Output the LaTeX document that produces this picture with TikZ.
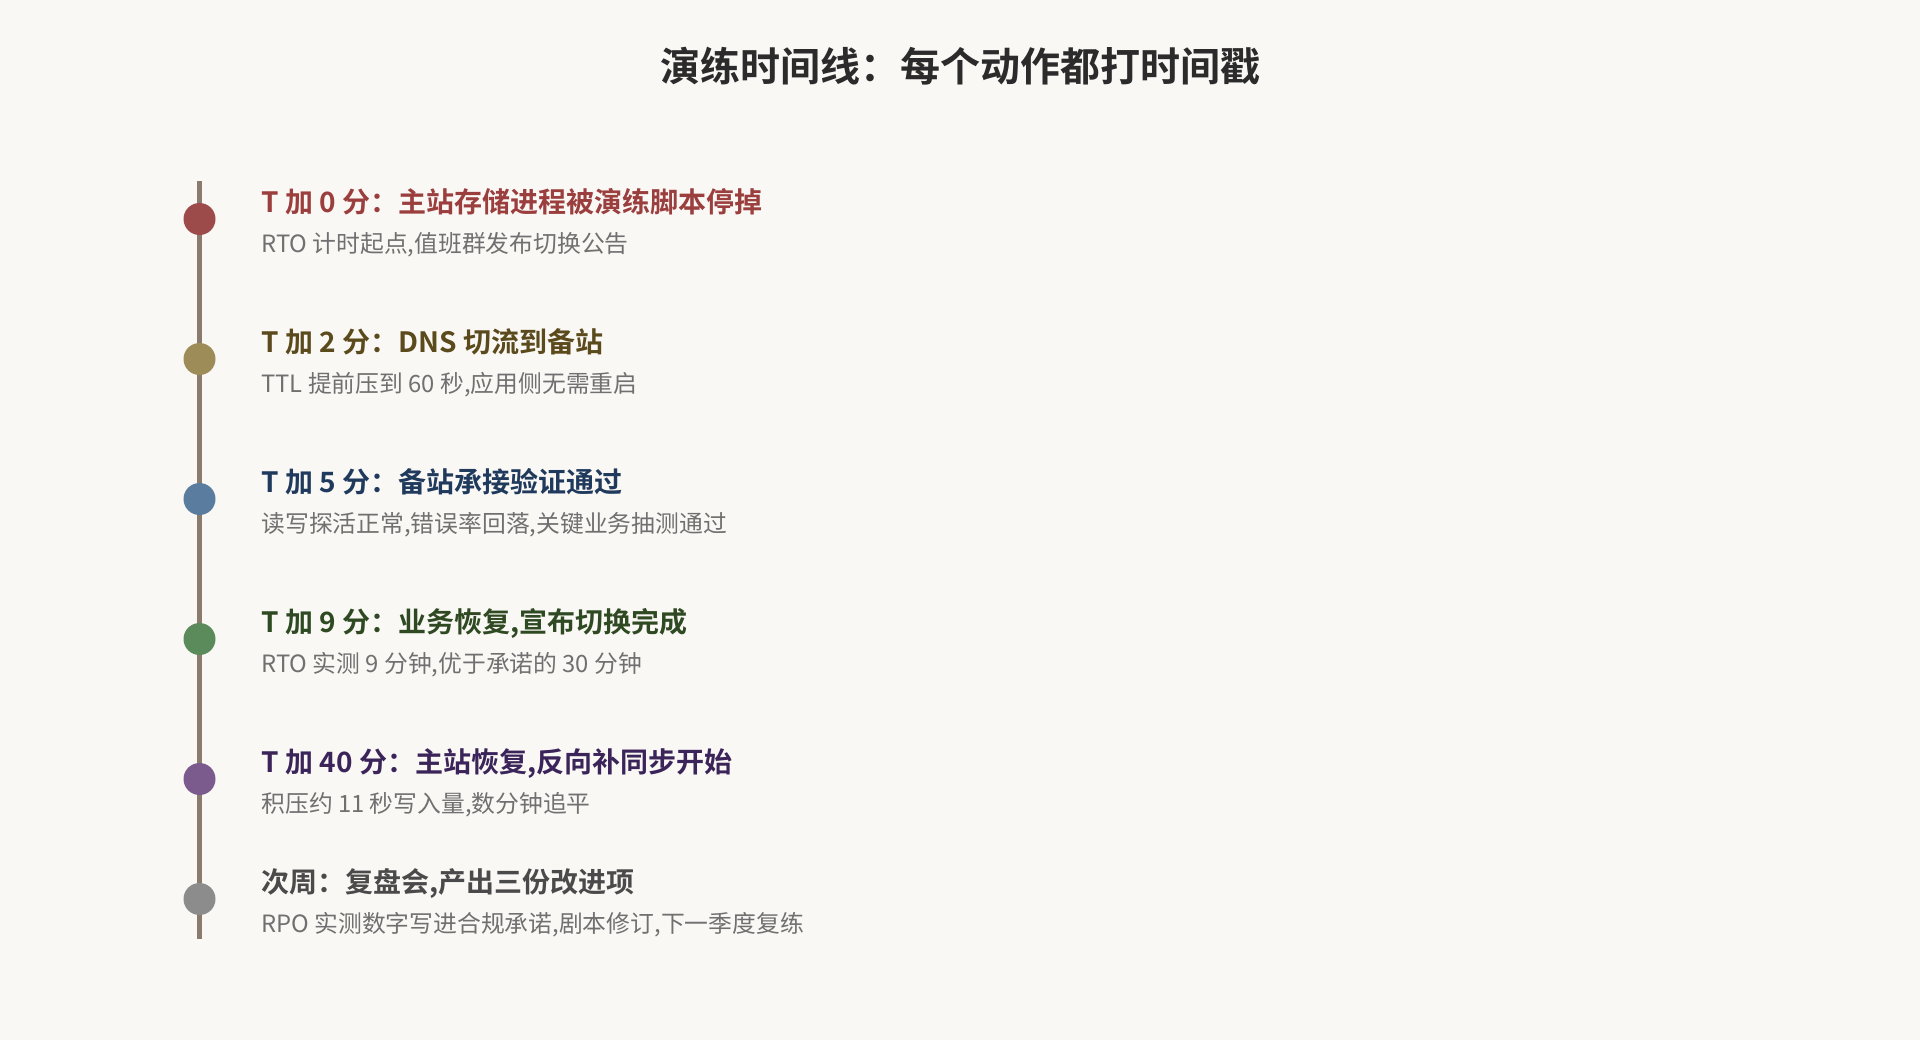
\documentclass[tikz,border=0pt]{standalone}
\usepackage{fontspec}
\setmainfont{Noto Sans CJK SC}
\newfontfamily\cjkb{Noto Sans CJK SC Bold}
\definecolor{bg}{HTML}{FAF8F5}
\definecolor{linec}{HTML}{8A7B6C}
\definecolor{titlec}{HTML}{2B2B2B}
\definecolor{subc}{HTML}{707070}
\definecolor{dA}{HTML}{9C4A4A}\definecolor{hA}{HTML}{9A3E3E}
\definecolor{dB}{HTML}{9E8C58}\definecolor{hB}{HTML}{5A4A1C}
\definecolor{dC}{HTML}{5A7D9F}\definecolor{hC}{HTML}{1F3A5C}
\definecolor{dD}{HTML}{5B8B5B}\definecolor{hD}{HTML}{2F4A22}
\definecolor{dE}{HTML}{7B5B8E}\definecolor{hE}{HTML}{3A2459}
\definecolor{dF}{HTML}{8C8C8C}\definecolor{hF}{HTML}{4A4A4A}
\tikzset{
  dot/.style={circle,minimum size=16pt,inner sep=0pt,fill=#1},
  headtxt/.style={anchor=base west,inner sep=0pt,text=#1,font=\cjkb\fontsize{14pt}{17pt}\selectfont},
  subtxt/.style={anchor=base west,inner sep=0pt,text=subc,font=\fontsize{11.9pt}{14pt}\selectfont},
}
\begin{document}
\begin{tikzpicture}[x=0.5pt,y=-0.5pt]
\fill[bg] (0,0) rectangle (1920,1040);
\useasboundingbox (0,0) rectangle (1920,1040);
\node[anchor=base,inner sep=0pt,text=titlec,font=\cjkb\fontsize{20pt}{24pt}\selectfont] (title) at (960,81) {演练时间线：每个动作都打时间戳};
\coordinate (ltop) at (199.5,181);
\coordinate (lbot) at (199.5,939);
\draw[linec,line width=2.5pt] (ltop) -- (lbot);
\node[dot=dA] (d1) at (199.5,219) {};
\node[dot=dB] (d2) at (199.5,359) {};
\node[dot=dC] (d3) at (199.5,499) {};
\node[dot=dD] (d4) at (199.5,639) {};
\node[dot=dE] (d5) at (199.5,779) {};
\node[dot=dF] (d6) at (199.5,899) {};
\node[headtxt=hA] (h1) at (261,212) {T 加 0 分：主站存储进程被演练脚本停掉};
\node[subtxt] (s1) at (261,252.5) {RTO 计时起点,值班群发布切换公告};
\node[headtxt=hB] (h2) at (261,352) {T 加 2 分：DNS 切流到备站};
\node[subtxt] (s2) at (261,392.5) {TTL 提前压到 60 秒,应用侧无需重启};
\node[headtxt=hC] (h3) at (261,492) {T 加 5 分：备站承接验证通过};
\node[subtxt] (s3) at (261,532.5) {读写探活正常,错误率回落,关键业务抽测通过};
\node[headtxt=hD] (h4) at (261,632) {T 加 9 分：业务恢复,宣布切换完成};
\node[subtxt] (s4) at (261,672.5) {RTO 实测 9 分钟,优于承诺的 30 分钟};
\node[headtxt=hE] (h5) at (261,772) {T 加 40 分：主站恢复,反向补同步开始};
\node[subtxt] (s5) at (261,812.5) {积压约 11 秒写入量,数分钟追平};
\node[headtxt=hF] (h6) at (261,892) {次周：复盘会,产出三份改进项};
\node[subtxt] (s6) at (261,932.5) {RPO 实测数字写进合规承诺,剧本修订,下一季度复练};
\end{tikzpicture}
\end{document}
